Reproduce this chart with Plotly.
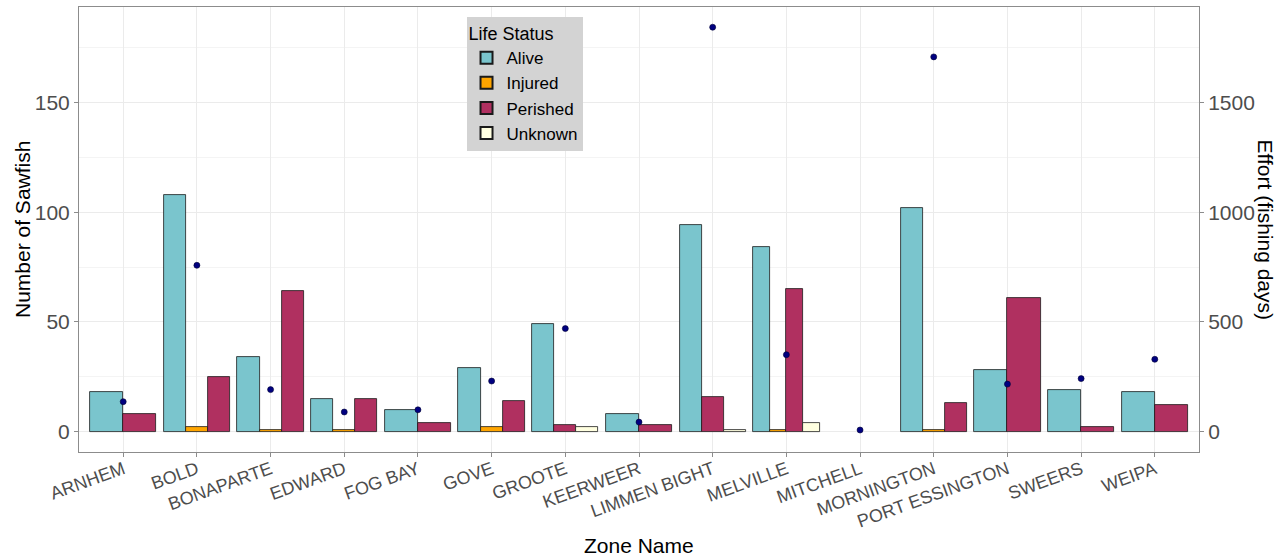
import plotly.graph_objects as go

zones = ["ARNHEM", "BOLD", "BONAPARTE", "EDWARD", "FOG BAY", "GOVE", "GROOTE",
         "KEERWEER", "LIMMEN BIGHT", "MELVILLE", "MITCHELL", "MORNINGTON",
         "PORT ESSINGTON", "SWEERS", "WEIPA"]
statuses = ["Alive", "Injured", "Perished", "Unknown"]
# None = status not recorded in that zone
alive    = [18, 108, 34, 15, 10, 29, 49, 8, 94, 84, None, 102, 28, 19, 18]
injured  = [None, 2, 1, 1, None, 2, None, None, None, 1, None, 1, None, None, None]
perished = [8, 25, 64, 15, 4, 14, 3, 3, 16, 65, None, 13, 61, 2, 12]
unknown  = [None, None, None, None, None, None, 2, None, 1, 4, None, None, None, None, None]
effort   = [137, 758, 192, 90, 100, 231, 470, 44, 1842, 351, 8, 1707, 217, 242, 330]

series = {"Alive": alive, "Injured": injured, "Perished": perished, "Unknown": unknown}
colors = {"Alive": "#7AC5CD", "Injured": "#FFA500", "Perished": "#B03060", "Unknown": "#FFFFE0"}

# dodge layout (like ggplot position_dodge): widths depend on how many statuses exist per zone
group_w = 0.9
present = [[s for s in statuses if series[s][i] is not None] for i in range(len(zones))]

fig = go.Figure()
for s in statuses:
    xs, ys, offs, ws = [], [], [], []
    for i, z in enumerate(zones):
        v = series[s][i]
        if v is None:
            continue
        n = len(present[i])
        k = present[i].index(s)
        w = group_w / n
        xs.append(z)
        ys.append(v)
        offs.append(-group_w / 2 + k * w)
        ws.append(w)
    fig.add_trace(go.Bar(
        x=xs, y=ys, offset=offs, width=ws, name=s,
        marker=dict(color=colors[s], line=dict(color="#1a1a1a", width=0.8)),
    ))

fig.add_trace(go.Scatter(
    x=zones, y=effort, mode="markers", yaxis="y2", showlegend=False,
    marker=dict(color="#000080", size=6, line=dict(color="#000033", width=0.6)),
))

ymax = max(max(v for v in alive + injured + perished + unknown if v is not None),
           max(effort) / 10)
yr = [-0.05 * ymax, 1.05 * ymax]

tickfont = dict(family="Liberation Sans, Arial", size=21, color="#4D4D4D")
border = "#8c8c8c"
grid = "#EBEBEB"

fig.update_layout(
    width=1286, height=559,
    margin=dict(l=79, r=87, t=7, b=107, autoexpand=False),
    paper_bgcolor="white", plot_bgcolor="white",
    barmode="overlay", bargap=0,
    font=dict(family="Liberation Sans, Arial", color="black"),
    xaxis=dict(
        type="category", categoryorder="array", categoryarray=zones,
        range=[-0.6, len(zones) - 0.4], automargin=False,
        tickangle=-20, tickfont=dict(family="Liberation Sans, Arial", size=18, color="#4D4D4D"),
        ticklabelstandoff=-5,
        ticks="outside", ticklen=4, tickcolor=border,
        showgrid=True, gridcolor=grid, gridwidth=1,
        showline=True, linecolor=border, linewidth=1, mirror=True,
        zeroline=False,
    ),
    yaxis=dict(
        range=yr, tickvals=[0, 50, 100, 150], tickfont=tickfont, automargin=False,
        ticks="outside", ticklen=4, tickcolor=border,
        showgrid=True, gridcolor=grid, gridwidth=1,
        minor=dict(tickvals=[25, 75, 125, 175], showgrid=True, gridcolor="#F4F4F4", gridwidth=0.8),
        showline=True, linecolor=border, linewidth=1, mirror=True,
        zeroline=False,
    ),
    yaxis2=dict(
        overlaying="y", side="right", automargin=False,
        range=[yr[0] * 10, yr[1] * 10], tickvals=[0, 500, 1000, 1500], tickfont=tickfont,
        ticks="outside", ticklen=4, tickcolor=border,
        showgrid=False, zeroline=False, showline=False,
    ),
    legend=dict(
        x=0.346, y=0.978, xanchor="left", yanchor="top",
        bgcolor="#D3D3D3", borderwidth=0,
        title=dict(text="Life Status", font=dict(size=18, color="black")),
        font=dict(size=17, color="black"),
        tracegroupgap=0, itemsizing="constant", itemwidth=30,
    ),
    annotations=[
        dict(text="Number of Sawfish", xref="paper", yref="paper",
             x=(22.5 - 79) / 1120, y=0.5, xanchor="center", yanchor="middle",
             textangle=-90, showarrow=False, font=dict(size=21, color="black")),
        dict(text="Effort (fishing days)", xref="paper", yref="paper",
             x=(1265 - 79) / 1120, y=0.5, xanchor="center", yanchor="middle",
             textangle=90, showarrow=False, font=dict(size=21, color="black")),
        dict(text="Zone Name", xref="paper", yref="paper",
             x=0.5, y=(452 - 545) / 445, xanchor="center", yanchor="middle",
             showarrow=False, font=dict(size=21, color="black")),
    ],
)

fig.write_html("out.html", config={"displayModeBar": False},
               post_script="document.body.style.margin='0';")
